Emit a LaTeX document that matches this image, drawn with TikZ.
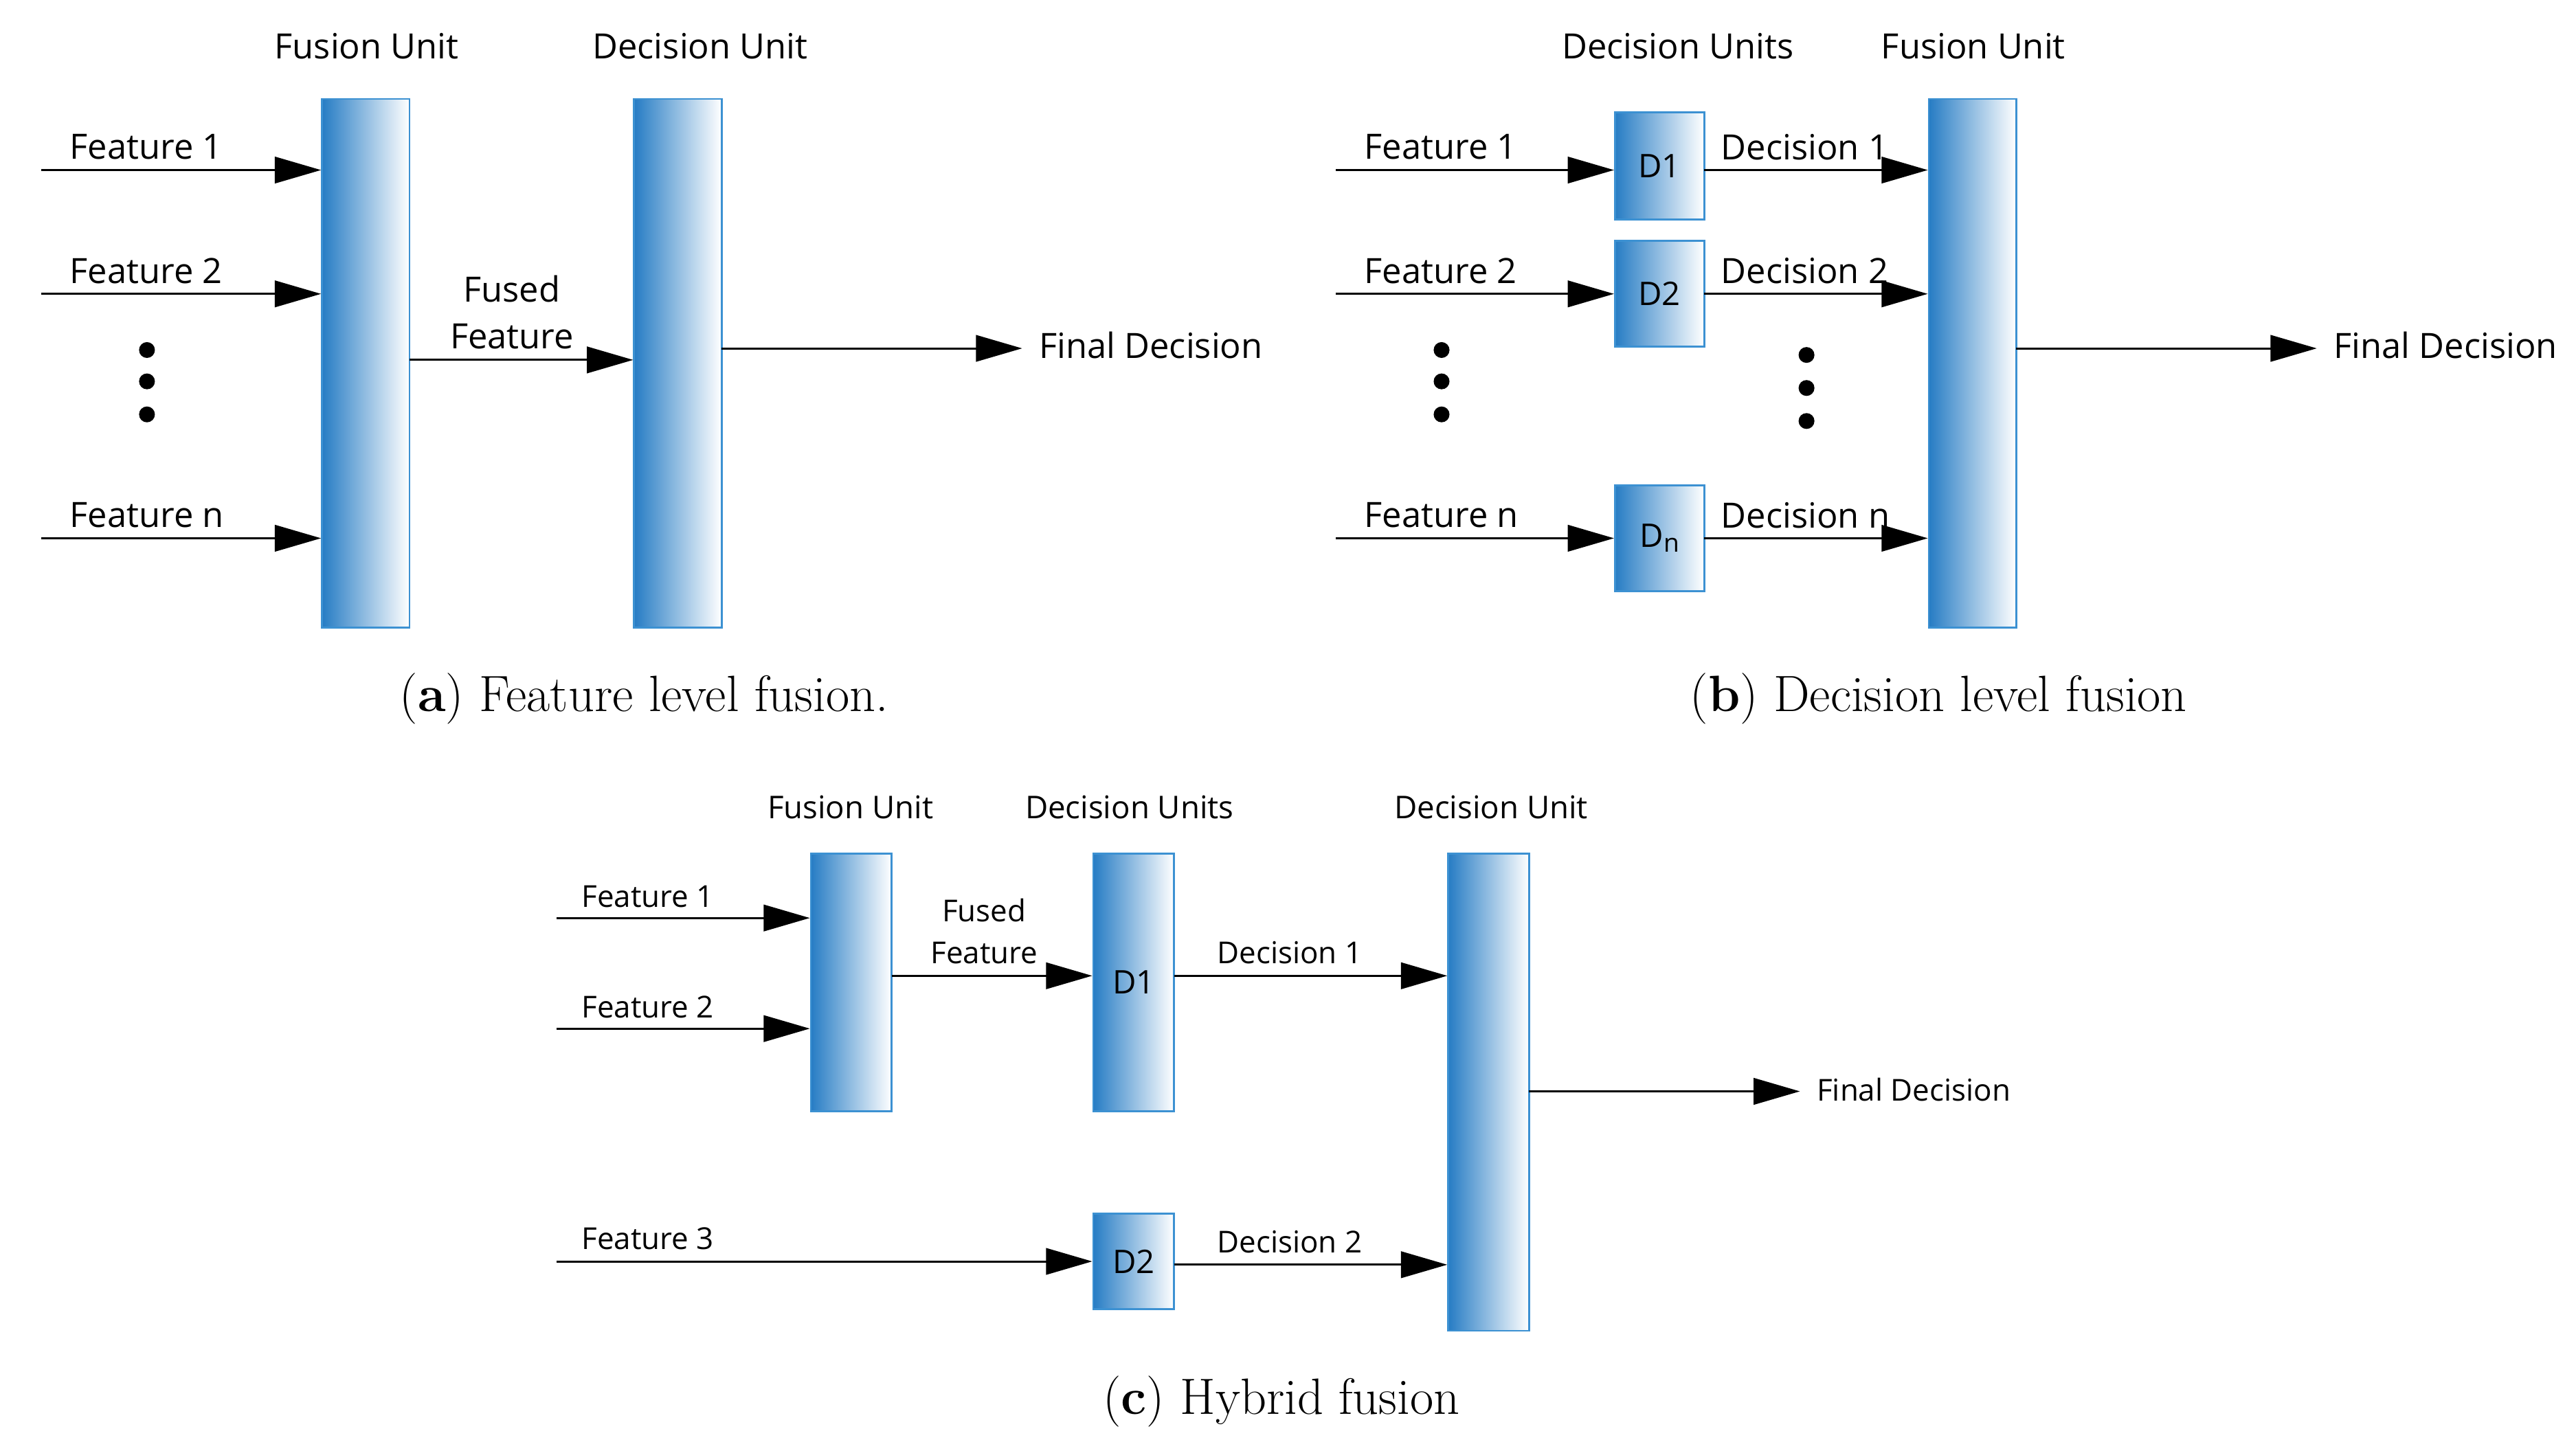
\documentclass[tikz,border=0pt]{standalone}
\usepackage{fontspec}
\newfontfamily\myos{Open Sans}
\usetikzlibrary{arrows.meta}
\definecolor{ub}{RGB}{38,124,196}
\definecolor{ubd}{RGB}{60,145,210}
\begin{document}
\begin{tikzpicture}[x=0.025cm,y=-0.025cm,
 unit/.style={draw=ubd,line width=0.8pt,left color=ub,right color=white,inner sep=0pt,font=\myos\fontsize{14}{16}\selectfont},
 ar/.style={line width=0.9pt,-{Triangle[length=0.7cm,width=0.4cm]}},
 lab/.style={font=\myos\fontsize{15}{18}\selectfont,inner sep=0pt},
 labc/.style={font=\myos\fontsize{13}{16}\selectfont,inner sep=0pt},
 hd/.style={font=\myos\fontsize{15}{18}\selectfont,inner sep=0pt},
 hdc/.style={font=\myos\fontsize{13.5}{16}\selectfont,inner sep=0pt},
 capt/.style={font=\fontsize{22}{26}\selectfont,inner sep=0pt},
 dot/.style={circle,fill=black,inner sep=0pt,minimum size=2.4mm}]
\useasboundingbox (0,0) rectangle (1560,872);
% ---------- (a)
\node[unit,minimum width=1.325cm,minimum height=8cm] (fu) at (221.5,220) {};
\node[unit,minimum width=1.325cm,minimum height=8cm] (du) at (410.5,220) {};
\node[hd] (hfu) at (222,28) {Fusion Unit};
\node[hd] (hdu) at (424,28) {Decision Unit};
\foreach \y/\t [count=\i] in {103/1,178/2,326/n}{
 \coordinate (fa\i) at (25,\y);
 \draw[ar] (fa\i) -- (fa\i -| fu.west);
 \node[lab,anchor=west] (lfa\i) at (42,\y-14) {Feature \t};}
\foreach \y [count=\i] in {212,231,251} \node[dot] (da\i) at (89,\y) {};
\coordinate (ff) at (248,218);
\draw[ar] (ff) -- (ff -| du.west);
\node[lab,align=center] (lff) at (310,189) {Fused\\[2pt]Feature};
\coordinate (oa) at (437,211); \coordinate (oae) at (619,211);
\draw[ar] (oa) -- (oae);
\node[lab,anchor=west] (lfda) at (629,209) {Final Decision};
\node[capt] (capa) at (390,423) {(\textbf{a}) Feature level fusion.};
% ---------- (b)
\node[unit,minimum width=1.35cm,minimum height=1.625cm] (d1) at (1005,100.5) {D1};
\node[unit,minimum width=1.35cm,minimum height=1.6cm] (d2) at (1005,178) {D2};
\node[unit,minimum width=1.35cm,minimum height=1.6cm] (dn) at (1005,326) {D\raisebox{-0.15em}{\fontsize{11}{12}\selectfont n}};
\node[unit,minimum width=1.325cm,minimum height=8cm] (fub) at (1194.5,220) {};
\node[hd] (hdus) at (1016,28) {Decision Units};
\node[hd] (hfub) at (1195,28) {Fusion Unit};
\foreach \y/\t/\n [count=\i] in {103/1/d1,178/2/d2,326/n/dn}{
 \coordinate (fb\i) at (809,\y);
 \draw[ar] (fb\i) -- (fb\i -| \n.west);
 \node[lab,anchor=west] (lfb\i) at (826,\y-14) {Feature \t};
 \coordinate (db\i) at (1032,\y);
 \draw[ar] (db\i) -- (db\i -| fub.west);
 \node[lab,anchor=west] (ldb\i) at (1042,\y-14) {Decision \t};}
\foreach \y [count=\i] in {212,231,251} \node[dot] (dbx\i) at (873,\y) {};
\foreach \y [count=\i] in {215,235,255} \node[dot] (dby\i) at (1094,\y) {};
\coordinate (ob) at (1221,211); \coordinate (obe) at (1403,211);
\draw[ar] (ob) -- (obe);
\node[lab,anchor=west] (lfdb) at (1413,209) {Final Decision};
\node[capt] (capb) at (1174,423) {(\textbf{b}) Decision level fusion};
% ---------- (c)
\node[unit,minimum width=1.225cm,minimum height=3.9cm] (fuc) at (515.5,595) {};
\node[unit,minimum width=1.225cm,minimum height=3.9cm] (d1c) at (686.5,595) {D1};
\node[unit,minimum width=1.225cm,minimum height=7.225cm] (duc) at (901.5,661.5) {};
\node[unit,minimum width=1.225cm,minimum height=1.45cm] (d2c) at (686.5,764) {D2};
\node[hdc] (hfuc) at (515,489) {Fusion Unit};
\node[hdc] (hdusc) at (684,489) {Decision Units};
\node[hdc] (hduc) at (903,489) {Decision Unit};
\coordinate (fc1) at (337,556); \draw[ar] (fc1) -- (fc1 -| fuc.west);
\node[labc,anchor=west] (lfc1) at (352,543) {Feature 1};
\coordinate (fc2) at (337,623); \draw[ar] (fc2) -- (fc2 -| fuc.west);
\node[labc,anchor=west] (lfc2) at (352,610) {Feature 2};
\coordinate (fc3) at (337,764); \draw[ar] (fc3) -- (d2c.west);
\node[labc,anchor=west] (lfc3) at (352,750) {Feature 3};
\coordinate (ffc) at (540,591); \draw[ar] (ffc) -- (ffc -| d1c.west);
\node[labc,align=center] (lffc) at (596,564) {Fused\\[2pt]Feature};
\coordinate (dc1) at (711,591); \draw[ar] (dc1) -- (dc1 -| duc.west);
\node[labc] (ldc1) at (781,577) {Decision 1};
\coordinate (dc2) at (711,766); \draw[ar] (dc2) -- (dc2 -| duc.west);
\node[labc] (ldc2) at (781,752) {Decision 2};
\coordinate (oc) at (926,661); \coordinate (oce) at (1090,661);
\draw[ar] (oc) -- (oce);
\node[labc,anchor=west] (lfdc) at (1100,660) {Final Decision};
\node[capt] (capc) at (776,849) {(\textbf{c}) Hybrid fusion};
\end{tikzpicture}
\end{document}
